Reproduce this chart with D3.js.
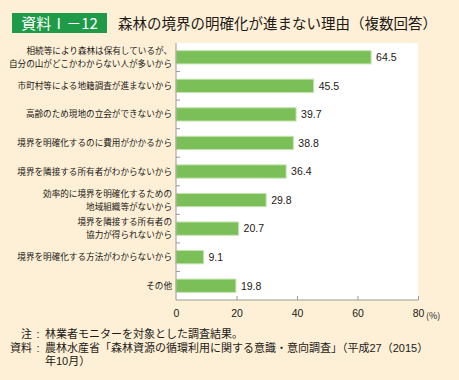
<!DOCTYPE html>
<html><head><meta charset="utf-8">
<script src="https://cdn.jsdelivr.net/npm/d3@7"></script>
<style>
html,body{margin:0;padding:0;background:#fdf0d7;}
svg{display:block;font-family:"Noto Sans CJK JP","Noto Sans",sans-serif;}
</style></head>
<body>
<script>
const categories = [
  ["相続等により森林は保有しているが、","自分の山がどこかわからない人が多いから"],
  ["市町村等による地籍調査が進まないから"],
  ["高齢のため現地の立会ができないから"],
  ["境界を明確化するのに費用がかかるから"],
  ["境界を隣接する所有者がわからないから"],
  ["効率的に境界を明確化するための","地域組織等がないから"],
  ["境界を隣接する所有者の","協力が得られないから"],
  ["境界を明確化する方法がわからないから"],
  ["その他"]
];
const values = [64.5, 45.5, 39.7, 38.8, 36.4, 29.8, 20.7, 9.1, 19.8];
const xTicks = [0, 20, 40, 60, 80];
const titleBadge = "資料Ⅰ－12";
const titleText = "森林の境界の明確化が進まない理由（複数回答）";
const notes = [
  ["注", "林業者モニターを対象とした調査結果。"],
  ["資料", "農林水産省「森林資源の循環利用に関する意識・意向調査」（平成27（2015）"],
  ["", "年10月）"]
];

const W = 459, H = 380;
const svg = d3.select("body").append("svg").attr("width", W).attr("height", H);
svg.append("rect").attr("width", W).attr("height", H).attr("fill", "#fdf0d7");

// Title
svg.append("rect").attr("x", 12).attr("y", 13).attr("width", 95).attr("height", 20).attr("fill", "#1f9a48");
svg.append("text").attr("x", 59.5).attr("y", 28.5).attr("text-anchor", "middle")
  .attr("fill", "#fff").attr("font-size", 15).text(titleBadge);
svg.append("text").attr("x", 118).attr("y", 28.5).attr("fill", "#231815")
  .attr("font-size", 14.5).text(titleText);

const x0 = 176, x1 = 418, yTop = 43, yBot = 300;
const x = d3.scaleLinear().domain([0, 80]).range([x0, x1]);
const y = d3.scaleBand().domain(d3.range(categories.length)).range([yTop, yBot])
  .paddingInner(0.5).paddingOuter(0.25);

// plot area
svg.append("rect").attr("x", x0).attr("y", yTop).attr("width", x1 - x0).attr("height", yBot - yTop).attr("fill", "#fff");

// bars
svg.selectAll("rect.bar").data(values).enter().append("rect").attr("class", "bar")
  .attr("x", x(0)).attr("y", (d, i) => y(i) + 0.5)
  .attr("width", d => x(d) - x(0)).attr("height", y.bandwidth() - 1)
  .attr("fill", "#7bbf58").attr("stroke", "#c6e4b0").attr("stroke-width", 1);

// value labels
svg.selectAll("text.val").data(values).enter().append("text").attr("class", "val")
  .attr("x", d => x(d) + 5).attr("y", (d, i) => y(i) + y.bandwidth() / 2)
  .attr("dy", "0.36em").attr("font-size", 10.5).attr("fill", "#231815")
  .attr("font-family", "Liberation Sans, Arial, sans-serif")
  .text(d => d.toFixed(1));

// category labels
categories.forEach((lines, i) => {
  const cy = y(i) + y.bandwidth() / 2;
  const n = lines.length;
  lines.forEach((t, j) => {
    svg.append("text").attr("x", 172).attr("y", cy + (j - (n - 1) / 2) * 13)
      .attr("dy", "0.36em").attr("text-anchor", "end").attr("font-size", 8.6)
      .attr("fill", "#231815").text(t);
  });
});

// axes
const axisColor = "#9a9a9a";
const xAxis = svg.append("g").attr("transform", `translate(0,${yBot})`)
  .call(d3.axisBottom(x).tickValues(xTicks).tickSize(-4).tickPadding(10).tickFormat(d3.format("d")));
xAxis.select(".domain").attr("stroke", axisColor).attr("d", `M${x0},0H${x1}`);
xAxis.selectAll(".tick line").attr("stroke", axisColor);
xAxis.selectAll(".tick text").attr("fill", "#231815").attr("font-size", 10.5)
  .attr("font-family", "Liberation Sans, Arial, sans-serif");
xAxis.selectAll(".tick").filter(d => d === 0).select("line").remove();
svg.append("text").attr("x", x(80) + 8).attr("y", yBot + 18.5).attr("font-size", 9)
  .attr("fill", "#231815").text("(%)");

// y axis line & ticks between bands
svg.append("line").attr("x1", x0).attr("x2", x0).attr("y1", yTop).attr("y2", yBot).attr("stroke", axisColor);
const step = y.step();
d3.range(1, categories.length).forEach(i => {
  const yy = y(i) - step * y.paddingInner() / 2;
  svg.append("line").attr("x1", x0).attr("x2", x0 + 4).attr("y1", yy).attr("y2", yy).attr("stroke", axisColor);
});

// notes
notes.forEach((n, i) => {
  const yy = 338 + i * 13.5;
  const g = svg.append("g").attr("font-size", 11).attr("fill", "#231815")
    .attr("font-family", "'Liberation Sans', 'Noto Sans CJK JP', sans-serif");
  if (n[0]) {
    g.append("text").attr("x", 32).attr("y", yy).attr("text-anchor", "end").text(n[0]);
    g.append("text").attr("x", 38).attr("y", yy).attr("text-anchor", "middle").text(":");
  }
  g.append("text").attr("x", 45).attr("y", yy).text(n[1]);
});
</script>
</body></html>
